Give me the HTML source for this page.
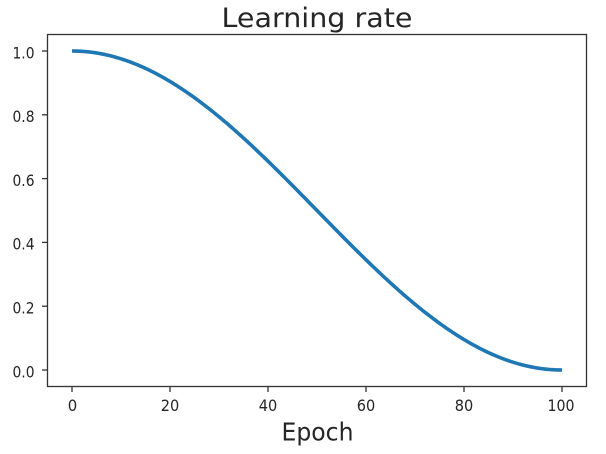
<!DOCTYPE html>
<html>
<head>
<meta charset="utf-8">
<style>
html,body{margin:0;padding:0;background:#fff;}
svg{display:block;}
text{font-family:"DejaVu Sans","Liberation Sans",sans-serif;fill:#262626;}
</style>
</head>
<body>
<svg width="606" height="454" viewBox="0 0 606 454" xmlns="http://www.w3.org/2000/svg">
<rect x="0" y="0" width="606" height="454" fill="#fff"/>
<!-- title -->
<text x="317" y="27" font-size="27" text-anchor="middle" textLength="191" lengthAdjust="spacingAndGlyphs">Learning rate</text>
<!-- curve -->
<polyline id="curve" fill="none" stroke="#1f77b4" stroke-width="3.6" stroke-linejoin="round" stroke-linecap="butt" points=""/>
<!-- spines -->
<rect x="47.5" y="34.5" width="539" height="352" fill="none" stroke="#333" stroke-width="1.3"/>
<!-- y ticks -->
<g stroke="#333" stroke-width="1.3">
<line x1="42" y1="51" x2="47.5" y2="51"/>
<line x1="42" y1="114.8" x2="47.5" y2="114.8"/>
<line x1="42" y1="178.6" x2="47.5" y2="178.6"/>
<line x1="42" y1="242.4" x2="47.5" y2="242.4"/>
<line x1="42" y1="306.2" x2="47.5" y2="306.2"/>
<line x1="42" y1="370" x2="47.5" y2="370"/>
</g>
<g font-size="16" text-anchor="end">
<text x="34.5" y="58.3" textLength="22" lengthAdjust="spacingAndGlyphs">1.0</text>
<text x="34.5" y="122.1" textLength="22" lengthAdjust="spacingAndGlyphs">0.8</text>
<text x="34.5" y="185.9" textLength="22" lengthAdjust="spacingAndGlyphs">0.6</text>
<text x="34.5" y="249.7" textLength="22" lengthAdjust="spacingAndGlyphs">0.4</text>
<text x="34.5" y="313.5" textLength="22" lengthAdjust="spacingAndGlyphs">0.2</text>
<text x="34.5" y="377.3" textLength="22" lengthAdjust="spacingAndGlyphs">0.0</text>
</g>
<!-- x ticks -->
<g stroke="#333" stroke-width="1.3">
<line x1="72" y1="386.5" x2="72" y2="392"/>
<line x1="170" y1="386.5" x2="170" y2="392"/>
<line x1="268" y1="386.5" x2="268" y2="392"/>
<line x1="366" y1="386.5" x2="366" y2="392"/>
<line x1="464" y1="386.5" x2="464" y2="392"/>
<line x1="562" y1="386.5" x2="562" y2="392"/>
</g>
<g font-size="16" text-anchor="middle">
<text x="72.5" y="411" textLength="9.5" lengthAdjust="spacingAndGlyphs">0</text>
<text x="170" y="411" textLength="18.5" lengthAdjust="spacingAndGlyphs">20</text>
<text x="268" y="411" textLength="18.5" lengthAdjust="spacingAndGlyphs">40</text>
<text x="366" y="411" textLength="18.5" lengthAdjust="spacingAndGlyphs">60</text>
<text x="464" y="411" textLength="18.5" lengthAdjust="spacingAndGlyphs">80</text>
<text x="561" y="411" textLength="27" lengthAdjust="spacingAndGlyphs">100</text>
</g>
<!-- x label -->
<text x="317.5" y="440.5" font-size="25" text-anchor="middle" textLength="72" lengthAdjust="spacingAndGlyphs">Epoch</text>
</svg>
<script>
(function(){
  var pts=[];
  for(var i=0;i<=200;i++){
    var x=i/2;
    var y=0.5*(1+Math.cos(Math.PI*x/100));
    var px=72+4.9*x;
    var py=370-319*y;
    pts.push(px.toFixed(2)+","+py.toFixed(2));
  }
  document.getElementById("curve").setAttribute("points",pts.join(" "));
})();
</script>
</body>
</html>
